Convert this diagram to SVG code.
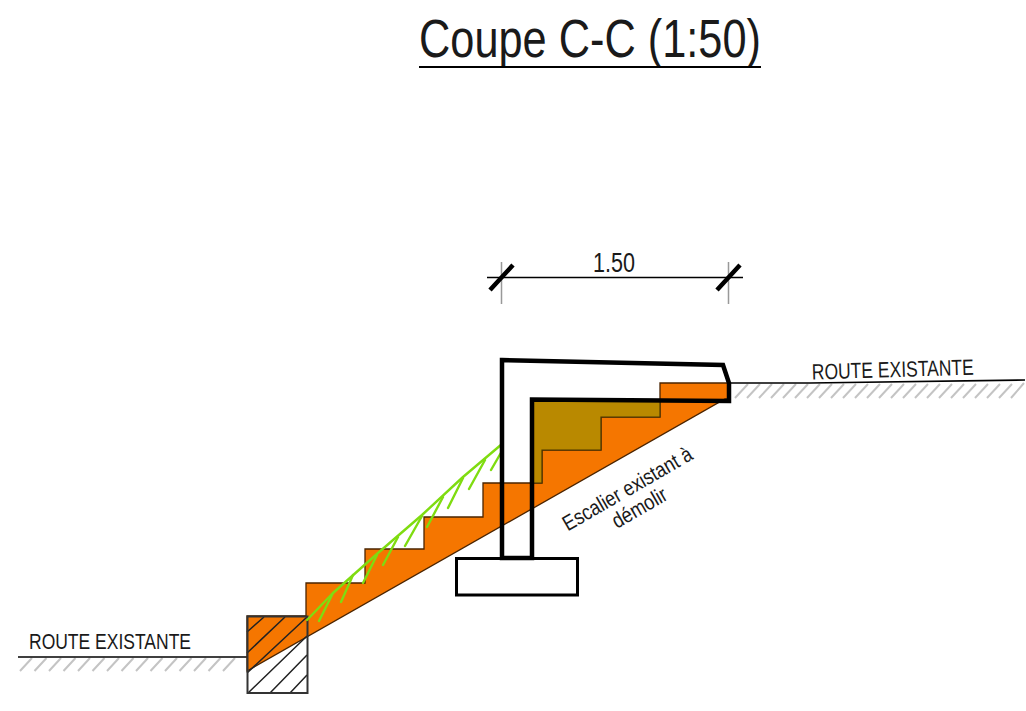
<svg xmlns="http://www.w3.org/2000/svg" width="1026" height="711" viewBox="0 0 1026 711">
<style>
text{font-family:"Liberation Sans",Arial,sans-serif;fill:#1a1a1a}
.thick{fill:none;stroke:#000;stroke-width:4.500;stroke-linejoin:miter}
.box{fill:none;stroke:#000;stroke-width:3}
.thin{fill:none;stroke:#000;stroke-width:1.600}
.hatch{fill:none;stroke:#222;stroke-width:1.500}
.ground{fill:none;stroke:#c4c4c4;stroke-width:2}
.green{fill:none;stroke:#7fdc10;stroke-width:2.400;stroke-linecap:round;stroke-linejoin:round}
.ext{fill:none;stroke:#999;stroke-width:1.500}
</style>
<rect width="1026" height="711" fill="#fff"/>
<g id="title">
<text x="419" y="57" font-size="53" textLength="342" lengthAdjust="spacingAndGlyphs">Coupe C-C (1:50)</text>
<path d="M419 67H761" stroke="#000" stroke-width="2"/>
</g>
<g id="ground-left">
<path class="ground" d="M20 671l12-13M34.500 671l12-13M49 671l12-13M63.500 671l12-13M78 671l12-13M92.500 671l12-13M107 671l12-13M121.500 671l12-13M136 671l12-13M150.500 671l12-13M165 671l12-13M179.500 671l12-13M194 671l12-13M208.500 671l12-13M223 671l12-13"/>
<path class="thin" d="M18 657H247"/>
<text x="29" y="649" font-size="22" textLength="162" lengthAdjust="spacingAndGlyphs">ROUTE EXISTANTE</text>
</g>
<g id="ground-right">
<path class="ground" d="M735 398l13-14M747 398l13-14M759 398l13-14M771 398l13-14M783 398l13-14M795 398l13-14M807 398l13-14M819 398l13-14M831 398l13-14M843 398l13-14M855 398l13-14M867 398l13-14M879 398l13-14M891 398l13-14M903 398l13-14M915 398l13-14M927 398l13-14M939 398l13-14M951 398l13-14M963 398l13-14M975 398l13-14M987 398l13-14M999 398l13-14M1011 398l13-15"/>
<path class="thin" d="M729 383H810L1025 380"/>
<text transform="translate(812 379.500) rotate(-1.700)" font-size="22" textLength="162" lengthAdjust="spacingAndGlyphs">ROUTE EXISTANTE</text>
</g>
<g id="stairs">
<path fill="#f57600" stroke="#4a2400" stroke-width="1.300" d="M247 671V616H306V583H365V549H424V517H483V483H542V450H601V417H660V383H729V399H725Z"/>
<path fill="#b98900" stroke="#4d3800" stroke-width="1.200" d="M532 400H660V417H601V450H542V483H532Z"/>
</g>
<g id="foundation-hatch">
<path class="hatch" d="M247 632L264 617M247 653L285 617M247 673L307 617M248 693L307 636M270 693L307 655M290 693L307 675"/>
<rect x="247.500" y="616.500" width="60" height="76.500" style="fill:none;stroke:#333;stroke-width:2"/>
</g>
<g id="vegetation">
<path class="green" d="M502 444L463 477L422 515L378 553L333 593L307 620"/>
<path class="green" d="M502 451L491 470M485 460L469 489M463 478L448 508M443 497L427 527M422 516L405 546M398 537L383 565M377 555L363 583M353 575L341 602M333 593L319 621"/>
</g>
<g id="wall">
<path class="thick" d="M502 360L723 365L729 383V401L532 399.500V558H502Z"/>
</g>
<g id="footing">
<rect class="box" x="456.500" y="558.500" width="121" height="36.500"/>
</g>
<g id="dimension">
<path class="ext" d="M501.500 262V304M728.500 262V304"/>
<path class="thin" d="M487 277.500H743"/>
<path d="M490 290L513 265M717 290L740 265" stroke="#000" stroke-width="4.500" fill="none"/>
<text x="593" y="272" font-size="27" textLength="42" lengthAdjust="spacingAndGlyphs">1.50</text>
</g>
<g id="note">
<text font-size="21.500" text-anchor="middle" transform="translate(631 495) rotate(-30)" textLength="146" lengthAdjust="spacingAndGlyphs">Escalier existant à</text>
<text font-size="21.500" text-anchor="middle" transform="translate(643 514) rotate(-30)" textLength="60" lengthAdjust="spacingAndGlyphs">démolir</text>
</g>
</svg>
